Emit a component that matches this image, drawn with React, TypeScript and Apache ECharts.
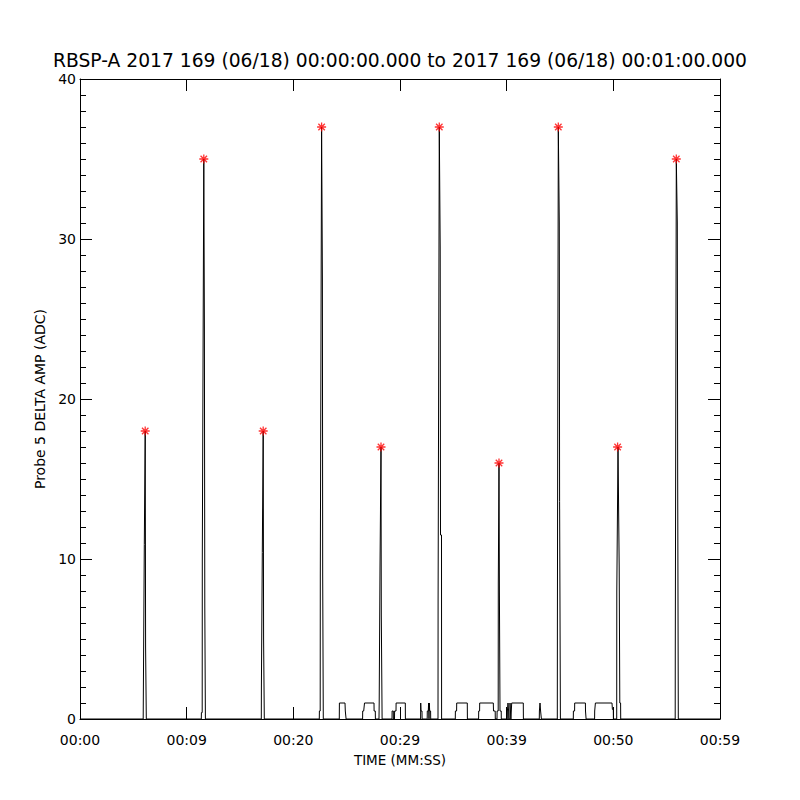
import React, { useEffect, useRef } from "react";
import * as echarts from "echarts";

const titleText =
  "RBSP-A 2017 169 (06/18) 00:00:00.000 to 2017 169 (06/18) 00:01:00.000";
const xTickLabels = ["00:00", "00:09", "00:20", "00:29", "00:39", "00:50", "00:59"];
const xName = "TIME (MM:SS)";
const yName = "Probe 5 DELTA AMP (ADC)";

// time (s) of each trace sample
const traceTimes = [
  0,
  5.925, 5.944, 6.028, 6.113, 6.15, 6.206, 6.216,
  11.372, 11.381, 11.456, 11.466, 11.606, 11.663, 11.7, 11.747, 11.756,
  16.997, 17.006, 17.091, 17.175, 17.213, 17.269, 17.278,
  22.434, 22.444, 22.519, 22.528, 22.65, 22.725, 22.753, 22.8, 22.809,
  24.309, 24.319, 24.844, 24.872, 24.938, 24.947,
  26.494, 26.503, 26.597, 26.672, 27.563, 27.572, 27.684, 27.694,
  28.031, 28.05, 28.125, 28.219, 28.247, 28.313, 28.322,
  29.25, 29.259, 29.372, 29.381,
  29.484, 29.494, 29.625, 29.634, 30.497, 30.506,
  31.931, 31.941, 31.969, 32.063, 32.072,
  32.55, 32.559, 32.653, 32.681, 32.719, 32.747, 32.784, 32.869, 32.878,
  33.563, 33.572, 33.684, 33.769, 33.797, 33.891, 33.9,
  35.184, 35.194, 35.306, 35.316, 36.309, 36.319,
  37.369, 37.378, 37.463, 37.472, 38.747, 38.766, 38.925, 38.934,
  39.094, 39.103, 39.206, 39.216, 39.281, 39.319, 39.375, 39.488, 39.497,
  40.059, 40.069, 40.125, 40.181, 40.191,
  40.303, 40.313, 40.359, 40.397, 40.463, 40.472, 41.559, 41.569,
  43.059, 43.069, 43.125, 43.181, 43.247, 43.256,
  44.747, 44.756, 44.841, 44.934, 44.963, 45.028, 45.038,
  46.247, 46.256, 46.369, 46.378, 47.381, 47.391, 47.438, 47.447,
  48.244, 48.253, 48.309, 48.319, 49.875, 49.913, 49.997, 50.006,
  50.316, 50.325, 50.438, 50.55, 50.606, 50.681, 50.691,
  55.8, 55.809, 55.903, 55.997, 56.034, 56.081, 56.091,
  60,
];

// amplitude (ADC) of each trace sample
const traceValues = [
  0,
  0, 2, 10.9, 18, 4.5, 4.5, 0,
  0, 0.4, 0.4, 10, 35, 24.5, 7, 7, 0,
  0, 2, 10.4, 18, 5, 5, 0,
  0, 0.5, 0.5, 9, 37, 27.5, 9, 9, 0,
  0, 1, 1, 0.5, 0.5, 0,
  0, 0.5, 0.5, 1, 1, 0.5, 0.5, 0,
  0, 1, 9.5, 17, 6.5, 6.5, 0,
  0, 0.5, 0.5, 0,
  0, 0.5, 0.5, 1, 1, 0,
  0, 1, 0.5, 0.5, 0,
  0, 0.5, 0.5, 1, 0, 1, 0.5, 0.5, 0,
  0, 7.5, 37, 29.5, 11.5, 11.5, 0,
  0, 0.5, 0.5, 1, 1, 0,
  0, 0.5, 0.5, 1, 1, 0.5, 0.5, 0,
  0, 0.5, 0.5, 8.5, 16, 8, 0.5, 0.5, 0,
  0, 0.5, 1, 0.5, 0,
  0, 1, 1, 0, 0, 1, 1, 0,
  0, 0.5, 1, 0.5, 0.5, 0,
  0, 6, 37, 31, 13.6, 13.6, 0,
  0, 0.5, 0.5, 1, 1, 0.5, 0.5, 0,
  0, 0.5, 0.5, 1, 1, 0.6, 0.6, 0,
  0, 8, 17, 9.5, 1, 1, 0,
  0, 4.5, 35, 31, 15, 15, 0,
  0,
];

// detected peaks (red asterisks)
const peakTimes = [6.113, 11.606, 17.175, 22.65, 28.219, 33.684, 39.281, 44.841, 50.4, 55.903];
const peakValues = [18, 35, 18, 37, 17, 37, 16, 37, 17, 35];

const asterisk =
  "path://M0,-5L0,5M-5,0L5,0M-3.6,-3.6L3.6,3.6M-3.6,3.6L3.6,-3.6";

export default function App() {
  const ref = useRef<HTMLDivElement>(null);
  useEffect(() => {
    if (!ref.current) return;
    const chart = echarts.init(ref.current, undefined, { renderer: "svg" });
    const font = "DejaVu Sans";
    const trace = traceTimes.map((t, i) => [t, traceValues[i]]);
    const peaks = peakTimes.map((t, i) => [t, peakValues[i]]);
    const baseX = {
      type: "value",
      min: 0,
      max: 60,
      interval: 10,
      splitLine: { show: false },
      axisLine: { show: true, onZero: false, lineStyle: { color: "#000", width: 1 } },
      axisTick: { show: true, inside: true, length: 12, lineStyle: { color: "#000" } },
    };
    const baseY = {
      type: "value",
      min: 0,
      max: 40,
      interval: 10,
      splitLine: { show: false },
      axisLine: { show: true, onZero: false, lineStyle: { color: "#000", width: 1 } },
      axisTick: { show: true, inside: true, length: 12, lineStyle: { color: "#000" } },
      minorTick: { show: true, splitNumber: 10, length: 6, lineStyle: { color: "#000" } },
    };
    chart.setOption({
      animation: false,
      backgroundColor: "#fff",
      title: {
        text: titleText,
        left: "center",
        top: 51,
        padding: 0,
        textStyle: {
          fontFamily: font,
          fontSize: 18.7,
          lineHeight: 19,
          fontWeight: "normal",
          color: "#000",
        },
      },
      grid: { left: 80, right: 80, top: 79, bottom: 81 },
      xAxis: [
        {
          ...baseX,
          position: "bottom",
          name: xName,
          nameLocation: "middle",
          nameGap: 34,
          nameTextStyle: { fontFamily: font, fontSize: 13.5, color: "#000" },
          axisLabel: {
            fontFamily: font,
            fontSize: 14,
            color: "#000",
            margin: 14,
            formatter: (v: number) => xTickLabels[Math.round(v / 10)] ?? "",
          },
        },
        { ...baseX, position: "top", axisLabel: { show: false } },
      ],
      yAxis: [
        {
          ...baseY,
          position: "left",
          name: yName,
          nameLocation: "middle",
          nameGap: 30,
          nameTextStyle: { fontFamily: font, fontSize: 14, color: "#000" },
          axisLabel: { fontFamily: font, fontSize: 14, lineHeight: 14, color: "#000", margin: 4 },
        },
        { ...baseY, position: "right", axisLabel: { show: false } },
      ],
      series: [
        {
          type: "line",
          data: trace,
          showSymbol: false,
          symbol: "none",
          lineStyle: { color: "#000", width: 1 },
          xAxisIndex: 0,
          yAxisIndex: 0,
          silent: true,
        },
        {
          type: "scatter",
          data: peaks,
          symbol: asterisk,
          symbolSize: 9,
          itemStyle: { color: "#ff0000", borderColor: "#ff0000", borderWidth: 1.3 },
          xAxisIndex: 0,
          yAxisIndex: 0,
          z: 5,
        },
      ],
    });
    return () => chart.dispose();
  }, []);
  return (
    <div
      ref={ref}
      style={{ position: "fixed", left: 0, top: 0, width: 800, height: 800, background: "#fff" }}
    />
  );
}
